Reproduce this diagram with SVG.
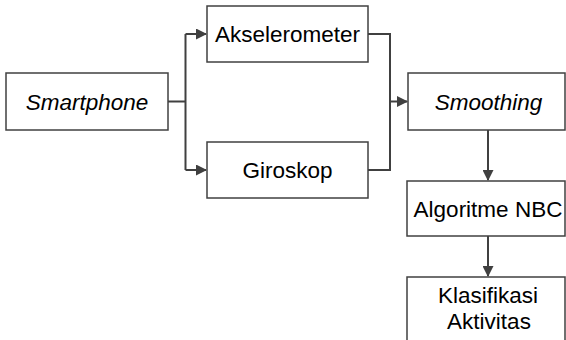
<svg xmlns="http://www.w3.org/2000/svg" width="566" height="340" viewBox="0 0 566 340">
<style>
.box{fill:#fff;stroke:#404040;stroke-width:1.5}
.t{font-family:"Liberation Sans",Arial,sans-serif;font-size:22.5px;fill:#000;text-anchor:middle}
.i{font-style:italic}
.c{fill:none;stroke:#404040;stroke-width:2}
</style>
<defs>
<marker id="ah" markerWidth="11" markerHeight="11" refX="10" refY="5.5" orient="auto" markerUnits="userSpaceOnUse">
<path d="M0,0 L11,5.5 L0,11 z" fill="#404040"/>
</marker>
</defs>
<rect width="566" height="340" fill="#fff"/>
<g id="connectors">
<path class="c" d="M168,101.5 H185.5 M185.5,34 V170" />
<path class="c" d="M185.5,34 H206" marker-end="url(#ah)"/>
<path class="c" d="M185.5,170 H206" marker-end="url(#ah)"/>
<path class="c" d="M368,34 H390 V170 H368" />
<path class="c" d="M390,101.5 H407" marker-end="url(#ah)"/>
<path class="c" d="M488,130 V180" marker-end="url(#ah)"/>
<path class="c" d="M488,236 V276" marker-end="url(#ah)"/>
</g>
<g id="smartphone">
<rect class="box" x="6" y="73" width="162" height="57"/>
<text class="t i" x="87" y="109.5">Smartphone</text>
</g>
<g id="akselerometer">
<rect class="box" x="207" y="6" width="161" height="56"/>
<text class="t" x="287.5" y="42">Akselerometer</text>
</g>
<g id="giroskop">
<rect class="box" x="207" y="142" width="161" height="56"/>
<text class="t" x="287.5" y="178">Giroskop</text>
</g>
<g id="smoothing">
<rect class="box" x="408" y="73" width="157" height="57"/>
<text class="t i" x="488.5" y="109.5">Smoothing</text>
</g>
<g id="nbc">
<rect class="box" x="407" y="181" width="158" height="55"/>
<text class="t" x="488" y="216.5">Algoritme NBC</text>
</g>
<g id="klasifikasi">
<rect class="box" x="407" y="277" width="158" height="70"/>
<text class="t" x="488" y="303">Klasifikasi</text>
<text class="t" x="489" y="328.5">Aktivitas</text>
</g>
</svg>
